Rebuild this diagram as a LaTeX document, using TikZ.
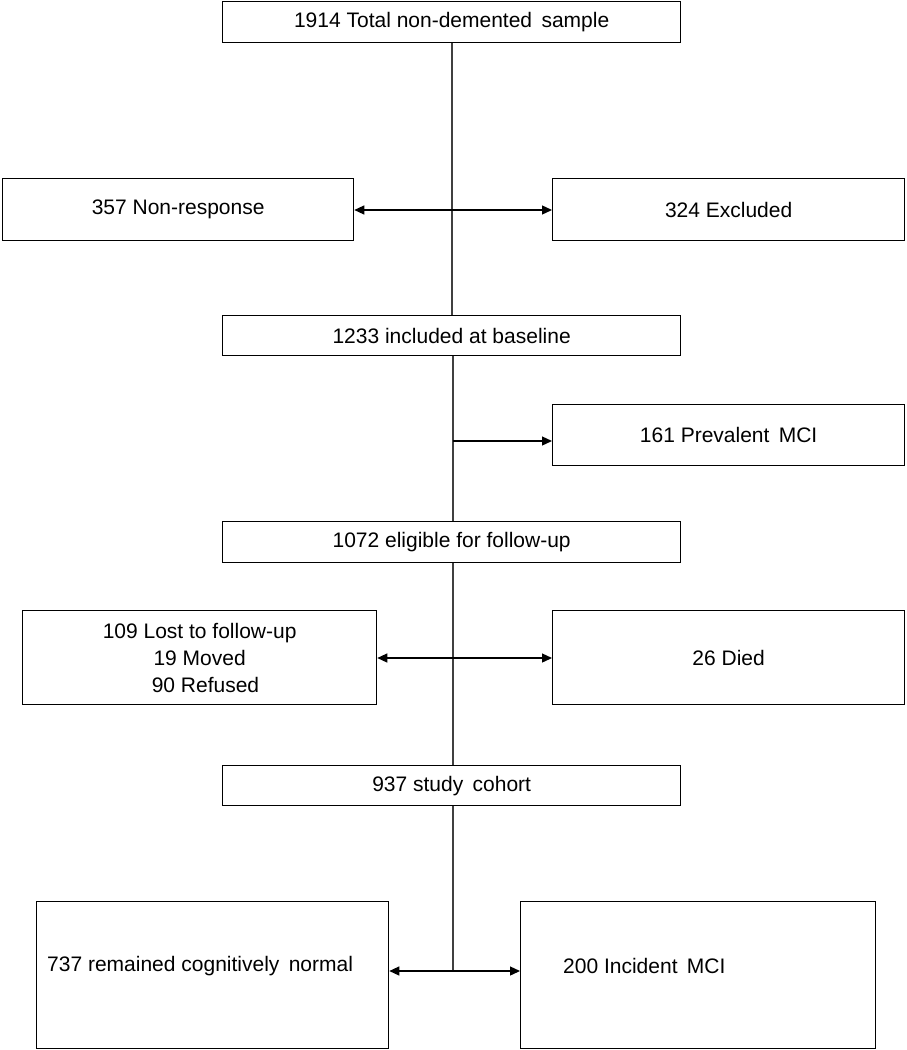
\documentclass[tikz,border=0pt]{standalone}
\usepackage{fontspec}
\setmainfont{Liberation Sans}
\usetikzlibrary{arrows.meta}
\begin{document}
\begin{tikzpicture}[x=1pt,y=-1pt,
  box/.style={draw=black, line width=1.3pt, fill=white, inner sep=0pt, anchor=north west,
    font=\fontsize{21}{27}\selectfont, align=center},
  lbl/.style={inner sep=0pt, anchor=west, font=\fontsize{21}{27}\selectfont},
  trunk/.style={draw=black!75, line width=1.1pt},
  arr/.style={draw=black, line width=1.3pt, -{Triangle[length=10pt,width=9pt]}}]
\fill[white] (0,0) rectangle (906,1050);
\useasboundingbox (0,0) rectangle (906,1050);
% main column
\node[box, minimum width=458pt, minimum height=41pt] (total) at (222,1) {1914 Total non-demented\, sample};
\node[box, minimum width=458pt, minimum height=40pt] (base) at (222,315) {1233 included at baseline};
\node[box, minimum width=458pt, minimum height=41pt] (elig) at (222,521) {1072 eligible for follow-up};
\node[box, minimum width=458pt, minimum height=40pt] (cohort) at (222,765) {937 study\, cohort};
% side boxes
\node[box, minimum width=351pt, minimum height=62pt] (nonresp) at (2,178) {357 Non-response};
\node[box, minimum width=352pt, minimum height=62pt] (excl) at (552,178) {324 Excluded};
\node[box, minimum width=352pt, minimum height=61pt] (prev) at (552,404) {161 Prevalent\, MCI};
\node[box, minimum width=354pt, minimum height=94pt] (lost) at (22,610) {109 Lost to follow-up\\19 Moved\\\ \ 90 Refused};
\node[box, minimum width=352pt, minimum height=94pt] (died) at (552,610) {26 Died};
\node[box, minimum width=352pt, minimum height=147pt] (normal) at (36,901) {};
\node[box, minimum width=355pt, minimum height=147pt] (incid) at (520,901) {};
\node[lbl] (normalt) at (47,966) {737 remained cognitively\, normal};
\node[lbl] (incidt) at (563,966) {200 Incident\, MCI};
% junction points
\coordinate (j1) at (452,210);
\coordinate (j2) at (453,441);
\coordinate (j3) at (453,658);
\coordinate (j4) at (453,971);
% trunk
\draw[trunk] (total.south -| j1) -- (base.north -| j1);
\draw[trunk] (base.south -| j2) -- (elig.north -| j2);
\draw[trunk] (elig.south -| j3) -- (cohort.north -| j3);
\draw[trunk] (cohort.south -| j4) -- (j4);
% branches
\draw[arr] (j1) -- (j1 -| nonresp.east);
\draw[arr] (j1) -- (j1 -| excl.west);
\draw[arr] (j2) -- (j2 -| prev.west);
\draw[arr] (j3) -- (j3 -| lost.east);
\draw[arr] (j3) -- (j3 -| died.west);
\draw[arr] (j4) -- (j4 -| normal.east);
\draw[arr] (j4) -- (j4 -| incid.west);
\end{tikzpicture}
\end{document}
